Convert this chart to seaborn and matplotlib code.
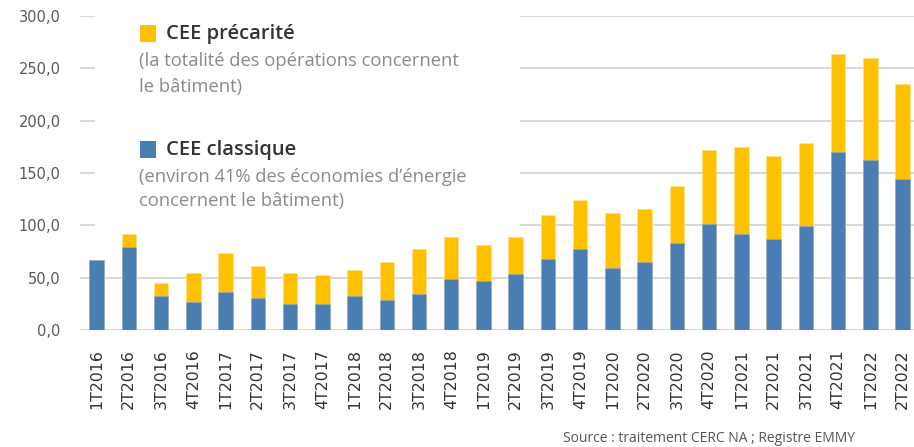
import matplotlib
matplotlib.use("Agg")
import matplotlib.pyplot as plt
import seaborn as sns
import pandas as pd
from matplotlib.patches import Rectangle

periods = ["1T2016", "2T2016", "3T2016", "4T2016", "1T2017", "2T2017", "3T2017", "4T2017",
           "1T2018", "2T2018", "3T2018", "4T2018", "1T2019", "2T2019", "3T2019", "4T2019",
           "1T2020", "2T2020", "3T2020", "4T2020", "1T2021", "2T2021", "3T2021", "4T2021",
           "1T2022", "2T2022"]

classique = [67.0, 79.6, 32.8, 26.5, 36.6, 30.9, 24.5, 24.5, 32.8, 28.7, 34.7, 49.0,
             46.8, 53.2, 67.6, 77.4, 59.0, 65.0, 83.5, 101.6, 91.5, 87.3, 99.4, 170.5,
             162.5, 144.1]
precarite = [0.0, 11.9, 11.8, 28.3, 36.7, 30.0, 30.3, 28.4, 24.2, 36.3, 42.5, 40.2,
             34.5, 36.0, 42.0, 46.6, 52.5, 50.7, 54.5, 70.8, 83.1, 79.4, 79.1, 93.4,
             97.3, 91.1]

y_ticks = [0, 50, 100, 150, 200, 250, 300]

df = pd.DataFrame({"periode": periods, "classique": classique, "precarite": precarite})
df["total"] = df["classique"] + df["precarite"]

BLUE = "#4A7EB3"
YELLOW = "#FFC000"

W, H = 914, 447
fig = plt.figure(figsize=(W / 100, H / 100), dpi=100)
ax = fig.add_axes([80 / W, 1 - 330 / H, 1 - 80 / W, (330 - 16) / H])

sns.barplot(data=df, x="periode", y="total", order=periods, color=YELLOW,
            width=0.45, saturation=1, ax=ax, zorder=3, edgecolor="#ffe58a", linewidth=0.4)
sns.barplot(data=df, x="periode", y="classique", order=periods, color=BLUE,
            width=0.45, saturation=1, ax=ax, zorder=4, edgecolor="#8fb0d4", linewidth=0.4)

ax.set_ylim(0, 300)
ax.set_xlim(-0.515, len(periods) - 1 + 0.354)
ax.set_yticks(y_ticks)
ax.set_yticklabels([f"{v:.1f}".replace(".", ",") for v in y_ticks],
                   fontsize=10.5, color="#595959", family="DejaVu Sans")
ax.tick_params(axis="y", length=0, pad=14)
ax.tick_params(axis="x", length=0, pad=14)
plt.setp(ax.get_xticklabels(), rotation=90, fontsize=11.3, color="#333333", family="DejaVu Sans")
ax.set_xlabel("")
ax.set_ylabel("")
for s in ax.spines.values():
    s.set_visible(False)
ax.set_axisbelow(True)
ax.yaxis.grid(True, color="#d9d9d9", linewidth=1.5)
ax.xaxis.grid(False)

# white box behind the legend text (covers upper gridlines), below the bars
ax.add_patch(Rectangle((95 / W, 1 - 232 / H), (520 - 95) / W, 232 / H,
                       transform=fig.transFigure, facecolor="white", edgecolor="none",
                       zorder=1, clip_on=False))

def fy(py):
    return 1 - py / H

def fx(px):
    return px / W

TF = ["Open Sans", "DejaVu Sans"]
fig.add_artist(Rectangle((fx(140), fy(42)), 16 / W, 17 / H, transform=fig.transFigure,
                         facecolor=YELLOW, edgecolor="none"))
fig.text(fx(166), fy(34), "CEE précarité", fontsize=14.5, fontweight="semibold",
         color="#333333", va="center", ha="left", family=TF)
fig.text(fx(139), fy(61), "(la totalité des opérations concernent", fontsize=13.2,
         color="#8a8a8a", va="center", ha="left", family=TF)
fig.text(fx(139), fy(87), "le bâtiment)", fontsize=13.2,
         color="#8a8a8a", va="center", ha="left", family=TF)

fig.add_artist(Rectangle((fx(140), fy(158)), 16 / W, 17 / H, transform=fig.transFigure,
                         facecolor=BLUE, edgecolor="none"))
fig.text(fx(166), fy(150), "CEE classique", fontsize=14.5, fontweight="semibold",
         color="#333333", va="center", ha="left", family=TF)
fig.text(fx(139), fy(177), "(environ 41% des économies d\u2019énergie", fontsize=13.2,
         color="#8a8a8a", va="center", ha="left", family=TF)
fig.text(fx(139), fy(201), "concernent le bâtiment)", fontsize=13.2,
         color="#8a8a8a", va="center", ha="left", family=TF)

fig.text(fx(563), fy(438), "Source : traitement CERC NA ; Registre EMMY", fontsize=10,
         color="#555555", va="center", ha="left", family=TF)

fig.savefig("out.png", dpi=100)
